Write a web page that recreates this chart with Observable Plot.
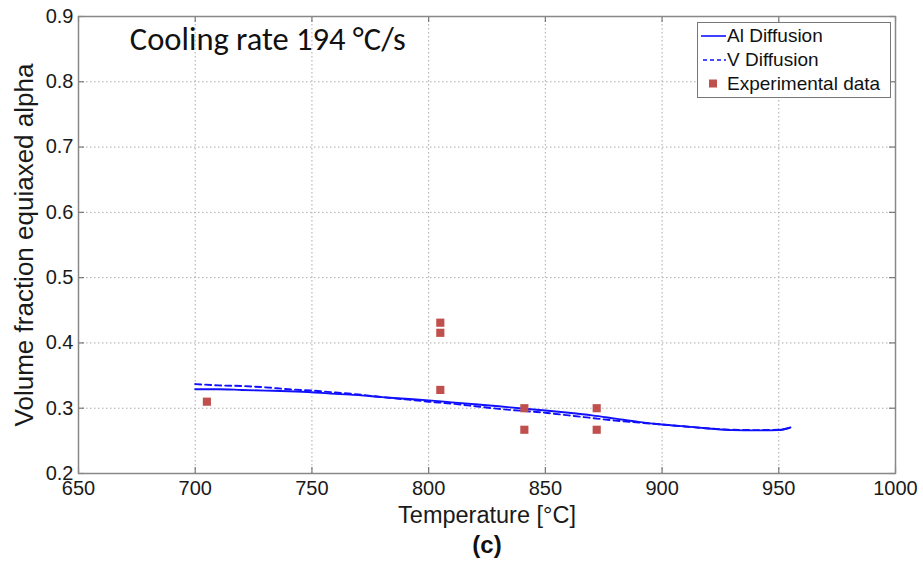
<!DOCTYPE html>
<html>
<head>
<meta charset="utf-8">
<script src="https://cdn.jsdelivr.net/npm/d3@7"></script>
<script src="https://cdn.jsdelivr.net/npm/@observablehq/plot@0.6"></script>
<style>
  html, body { margin: 0; padding: 0; background: #fff; }
  #wrap { position: relative; width: 923px; height: 563px; font-family: "Liberation Sans", Arial, sans-serif; }
  #legend { position: absolute; left: 697px; top: 22px; width: 194px; height: 76px; border: 1px solid #777; background: #fff; box-sizing: border-box; font-size: 19px; color: #111; }
  .row { position: absolute; left: 0; height: 24px; display: flex; align-items: center; }
  .row svg { margin-left: 3px; margin-right: 1px; }
</style>
</head>
<body>
<div id="wrap"></div>
<script>
// ---- data ----
const alTemp = [700, 710, 720, 730, 740, 750, 760, 770, 780, 790, 800, 810, 820, 830, 840, 850, 860, 870, 880, 890, 900, 910, 920, 930, 940, 950, 955];
const alFrac = [0.329, 0.329, 0.328, 0.327, 0.326, 0.3245, 0.322, 0.320, 0.317, 0.3145, 0.312, 0.309, 0.306, 0.303, 0.2995, 0.2965, 0.293, 0.289, 0.284, 0.279, 0.275, 0.272, 0.269, 0.2665, 0.266, 0.2665, 0.2705];
const vTemp = [700, 710, 720, 730, 740, 750, 760, 770, 780, 790, 800, 810, 820, 830, 840, 850, 860, 870, 880, 890, 900, 910, 920, 930, 940, 950, 955];
const vFrac = [0.337, 0.335, 0.334, 0.332, 0.329, 0.327, 0.324, 0.321, 0.317, 0.3135, 0.310, 0.307, 0.303, 0.299, 0.296, 0.293, 0.289, 0.285, 0.281, 0.278, 0.275, 0.272, 0.269, 0.267, 0.2665, 0.267, 0.270];
const expTemp = [705, 805, 805, 805, 841, 841, 872, 872];
const expFrac = [0.310, 0.431, 0.4155, 0.328, 0.300, 0.267, 0.300, 0.267];
const xTicks = [650, 700, 750, 800, 850, 900, 950, 1000];
const yTicks = [0.2, 0.3, 0.4, 0.5, 0.6, 0.7, 0.8, 0.9];
const seriesNames = ["Al Diffusion", "V Diffusion", "Experimental data"];
const annotation = "Cooling rate 194 °C/s";
const xLabel = "Temperature [°C]";
const yLabel = "Volume fraction equiaxed alpha";
const panelLabel = "(c)";

const al = alTemp.map((t, i) => ({t, f: alFrac[i]}));
const v = vTemp.map((t, i) => ({t, f: vFrac[i]}));
const exp = expTemp.map((t, i) => ({t, f: expFrac[i]}));

const lineBlue = "#1010ff";
const markRed = "#c0504d";
const W = 923, H = 563, mL = 78, mR = 28, mT = 16, mB = 90;
const innerH = H - mT - mB;
const tickLen = 6;
const txt = "#1a1a1a";

const chart = Plot.plot({
  width: W, height: H,
  marginLeft: mL, marginRight: mR, marginTop: mT, marginBottom: mB,
  style: { fontFamily: "'Liberation Sans', Arial, sans-serif", fontSize: "20px", color: txt, background: "#fff" },
  x: { domain: [650, 1000], axis: null },
  y: { domain: [0.2, 0.9], axis: null },
  marks: [
    Plot.gridX(xTicks, { stroke: "#aaa", strokeOpacity: 1, strokeDasharray: "1.5,2.5", strokeWidth: 1 }),
    Plot.gridY(yTicks, { stroke: "#aaa", strokeOpacity: 1, strokeDasharray: "1.5,2.5", strokeWidth: 1 }),
    // inward ticks on all four sides
    Plot.tickX(xTicks, { x: d => d, stroke: "#777", strokeWidth: 1.2, insetTop: innerH - tickLen }),
    Plot.tickX(xTicks, { x: d => d, stroke: "#777", strokeWidth: 1.2, insetBottom: innerH - tickLen }),
    Plot.tickY(yTicks, { y: d => d, stroke: "#777", strokeWidth: 1.2, insetRight: (W - mL - mR) - tickLen }),
    Plot.tickY(yTicks, { y: d => d, stroke: "#777", strokeWidth: 1.2, insetLeft: (W - mL - mR) - tickLen }),
    // tick labels
    Plot.text(xTicks, { x: d => d, frameAnchor: "bottom", lineAnchor: "middle", dy: 15, text: d => String(d), fontSize: 20, fill: txt }),
    Plot.text(yTicks, { y: d => d, frameAnchor: "left", textAnchor: "end", lineAnchor: "middle", dx: -5, text: d => d.toFixed(1), fontSize: 20, fill: txt }),
    // axis labels
    Plot.text([xLabel], { frameAnchor: "bottom", lineAnchor: "middle", dy: 42, text: d => d, fontSize: 23.5, fill: txt }),
    Plot.text([yLabel], { frameAnchor: "left", dx: -54, rotate: -90, textAnchor: "middle", lineAnchor: "middle", text: d => d, fontSize: 26, fill: txt }),
    // data
    Plot.line(v, { x: "t", y: "f", stroke: lineBlue, strokeWidth: 1.9, strokeDasharray: "6,4", curve: "monotone-x" }),
    Plot.line(al, { x: "t", y: "f", stroke: lineBlue, strokeWidth: 1.9, curve: "monotone-x" }),
    Plot.dot(exp, { x: "t", y: "f", symbol: "square", fill: markRed, r: 4.6 }),
    Plot.text([annotation], { x: 672, y: 0.864, text: d => d, textAnchor: "start", lineAnchor: "middle", fontSize: 32.5, fontFamily: "Carlito, Lato, 'Open Sans', sans-serif", fill: "#111" }),
    Plot.text([panelLabel], { frameAnchor: "bottom", lineAnchor: "middle", dy: 72, text: d => d, fontSize: 24, fontWeight: "bold", fill: "#111" }),
    Plot.frame({ stroke: "#888", strokeWidth: 1.5 })
  ]
});

const wrap = document.getElementById("wrap");
wrap.appendChild(chart);

// legend
const legend = document.createElement("div");
legend.id = "legend";
const rows = [
  { name: seriesNames[0], kind: "solid" },
  { name: seriesNames[1], kind: "dash" },
  { name: seriesNames[2], kind: "square" }
];
rows.forEach((r, i) => {
  const row = document.createElement("div");
  row.className = "row";
  row.style.top = (1 + i * 24) + "px";
  let sym = "";
  if (r.kind === "solid") sym = `<svg width="25" height="10"><line x1="0" x2="25" y1="5" y2="5" stroke="${lineBlue}" stroke-width="1.6"/></svg>`;
  else if (r.kind === "dash") sym = `<svg width="25" height="10"><line x1="2" x2="25" y1="5" y2="5" stroke="${lineBlue}" stroke-width="1.6" stroke-dasharray="4,3"/></svg>`;
  else sym = `<svg width="25" height="10"><rect x="8" y="0.5" width="8" height="8" fill="${markRed}"/></svg>`;
  row.innerHTML = sym + `<span>${r.name}</span>`;
  legend.appendChild(row);
});
wrap.appendChild(legend);
</script>
</body>
</html>
